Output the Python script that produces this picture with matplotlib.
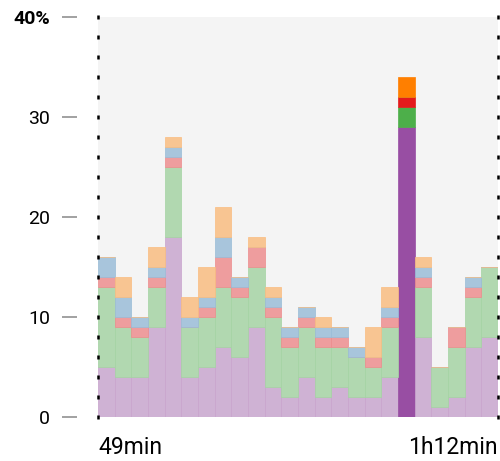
import matplotlib
matplotlib.use("Agg")
import matplotlib.pyplot as plt
import numpy as np

# Data: one bin per minute, 49 min .. 72 min
minutes = list(range(49, 73))
purple = [5, 4, 4, 9, 18, 4, 5, 7, 6, 9, 3, 2, 4, 2, 3, 2, 2, 4, 29, 8, 1, 2, 7, 8]
green  = [8, 5, 4, 4, 7, 5, 5, 6, 6, 6, 7, 5, 5, 5, 4, 4, 3, 5, 2, 5, 4, 5, 5, 7]
red    = [1, 1, 1, 1, 1, 0, 1, 3, 1, 2, 1, 1, 1, 1, 1, 0, 1, 1, 1, 1, 0, 2, 1, 0]
blue   = [2, 2, 1, 1, 1, 1, 1, 2, 1, 0, 1, 1, 1, 1, 1, 1, 0, 1, 0, 1, 0, 0, 1, 0]
orange = [0, 2, 0, 2, 1, 2, 3, 3, 0, 1, 1, 0, 0, 1, 0, 0, 3, 2, 2, 1, 0, 0, 0, 0]
highlight = 67
yticks = [0, 10, 20, 30, 40]
ytick_labels = ["0", "10", "20", "30", "40%"]
xtick_labels = ["49min", "1h12min"]

series = [purple, green, red, blue, orange]
colors = ["#984ea3", "#4daf4a", "#e41a1c", "#377eb8", "#ff7f00"]
bg = np.array([244, 244, 244]) / 255.0

def pale(c, a=0.4):
    rgb = np.array(matplotlib.colors.to_rgb(c))
    return tuple(a * rgb + (1 - a) * bg)

fig = plt.figure(figsize=(5.0, 4.61), dpi=100)
ax = fig.add_axes([98 / 500, 44 / 461, 400 / 500, 400 / 461])
ax.set_facecolor("#f4f4f4")

x = np.array(minutes)
bottom = np.zeros(len(x))
for vals, c in zip(series, colors):
    v = np.array(vals, dtype=float)
    fcs = [c if m == highlight else pale(c) for m in minutes]
    ecs = [c if m == highlight else pale(c, 0.48) for m in minutes]
    ax.bar(x, v, width=1.0, bottom=bottom, align="edge",
           color=fcs, edgecolor=ecs, linewidth=0.5, zorder=2)
    bottom += v

ax.set_xlim(49, 73)
ax.set_ylim(0, 40)

for s in ax.spines.values():
    s.set_visible(False)
ax.spines["left"].set_position(("outward", 15))

ax.set_yticks(yticks)
ax.set_yticklabels(ytick_labels, fontsize=14, fontfamily="Roboto")
ax.tick_params(axis="y", length=10.5, width=1.1, color="#888888", pad=9)
ax.get_yticklabels()[-1].set_fontweight("bold")

ax.set_xticks([49, 73])
ax.set_xticklabels(xtick_labels, fontsize=16.5, fontfamily="Roboto")
ax.tick_params(axis="x", length=0, pad=14)
xl = ax.get_xticklabels()
xl[0].set_ha("left")
xl[1].set_ha("right")

# dotted edge markers every 2 units on both sides
dots = np.arange(0, 41, 2)
for xe in (0, 1):
    ax.plot([xe] * len(dots), dots, linestyle="none", marker="|",
            markersize=2.5, markeredgewidth=1.8, color="black",
            transform=ax.get_yaxis_transform(), clip_on=False, zorder=5)

fig.savefig("out.png", dpi=100)
